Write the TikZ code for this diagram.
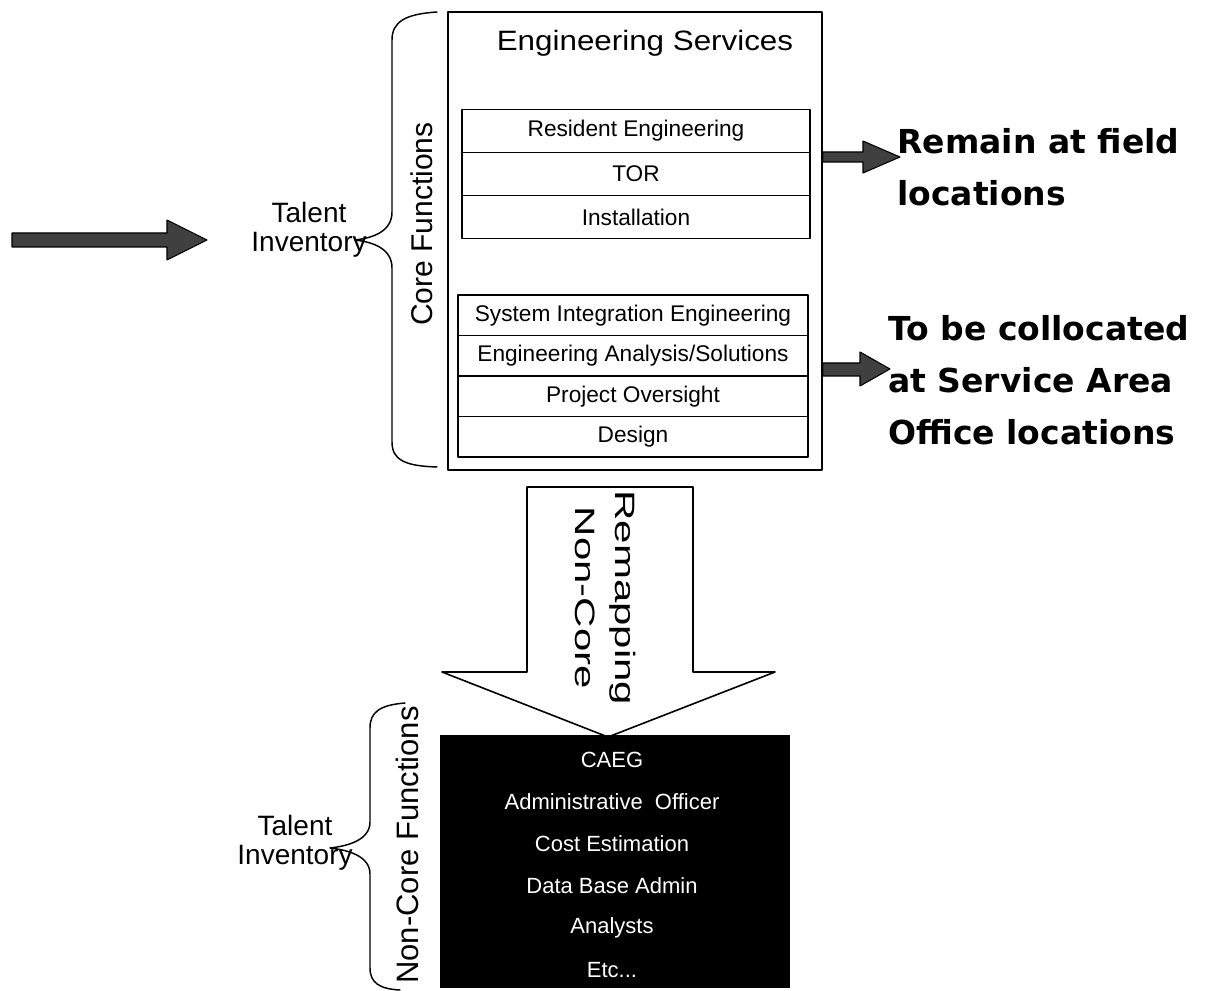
\documentclass[tikz,border=0pt]{standalone}
\usepackage{fontspec}
\setmainfont{Liberation Sans}
\newfontfamily\remfont{DejaVu Sans}
\newfontfamily\titlefont[FakeStretch=1.12]{Liberation Sans}
\newfontfamily\widefont[FakeStretch=1.5]{Liberation Sans}
\begin{document}
\begin{tikzpicture}[x=.75pt, y=-.75pt, line join=round, line cap=round,
	row/.style={draw, line width=1.2pt, inner sep=0, font=\fontsize{17}{17}\selectfont},
	lbl/.style={align=center, inner sep=0, font=\fontsize{21}{22}\selectfont},
	blk/.style={fill=black!75, draw=black, line width=.8pt}]
	\useasboundingbox (0,0) rectangle (1215,991);
	% core functions
	\node[draw, line width=1.2pt, minimum width=280.5pt, minimum height=343.5pt, inner sep=0] (es) at (635,241) {};
	\node[inner sep=0, font=\titlefont\fontsize{21}{21}\selectfont] (title) at (645,43) {Engineering Services};
	\foreach \t [count=\i] in {Resident Engineering, TOR, Installation}
		\node[row, minimum width=261pt, minimum height=32.25pt] (u\i) at (636,{88+43*\i}) {\t};
	\foreach \t [count=\i] in {System Integration Engineering, Engineering Analysis/Solutions, Project Oversight, Design}
		\node[row, minimum width=262.5pt, minimum height=30.375pt] (l\i) at (633,{274.75+40.5*\i}) {\t};
	\draw[line width=1.1pt] (437,12) .. controls (405,14) and (392,22) .. (392,40) -- (392,212)
		.. controls (392,232) and (372,238) .. (355,240) .. controls (372,242) and (392,248) .. (392,268)
		-- (392,442) .. controls (392,460) and (405,466) .. (437,467);
	\node[rotate=90, inner sep=0, font=\fontsize{22.5}{22.5}\selectfont] (cf) at (422,224) {Core Functions};
	\node[lbl] (ti1) at (309,230) {Talent\\Inventory};
	\filldraw[blk] (12,233) -- (167,233) -- (167,220) -- (207,240) -- (167,260) -- (167,247) -- (12,247) -- cycle;
	% to the right
	\node[anchor=north west, inner sep=0, align=left, font=\remfont\bfseries\fontsize{24.75}{39}\selectfont] (remain) at (897,128) {Remain at field\\locations};
	\node[anchor=north west, inner sep=0, align=left, font=\remfont\bfseries\fontsize{24.75}{39}\selectfont] (colloc) at (888,315) {To be collocated\\at Service Area\\Office locations};
	\filldraw[blk] (es.east|-0,152) -- (863,152) -- (863,141) -- (900,157) -- (863,173) -- (863,162) -- (es.east|-0,162) -- cycle;
	\filldraw[blk] (es.east|-0,363) -- (860,363) -- (860,352) -- (890,369) -- (860,386) -- (860,376) -- (es.east|-0,376) -- cycle;
	% remapping
	\draw[line width=1.2pt, fill=white] (527,487) -- (693,487) -- (693,672) -- (775,672) -- (608,737) -- (442,672) -- (527,672) -- cycle;
	\node[rotate=-90, align=center, inner sep=0, font=\widefont\fontsize{21}{30}\selectfont] (remap) at (606,598) {Remapping\\Non-Core};
	% non-core functions
	\node[fill=black, minimum width=262.5pt, minimum height=189.75pt, inner sep=0] (nc) at (615,861.5) {};
	\foreach \t [count=\i] in {CAEG, Administrative\ \ Officer, Cost Estimation, Data Base Admin, Analysts, Etc.{}..}
		\node[white, inner sep=0, font=\fontsize{16.5}{16.5}\selectfont] (n\i) at (612,{718+42*\i}) {\t};
	\draw[line width=1.1pt] (405,703) .. controls (380,705) and (370,712) .. (370,728) -- (370,822)
		.. controls (370,840) and (348,846) .. (330,848) .. controls (348,850) and (370,856) .. (370,874)
		-- (370,968) .. controls (370,983) and (380,989) .. (400,990);
	\node[rotate=90, inner sep=0, font=\fontsize{23.25}{23.25}\selectfont] (ncf) at (407,845) {Non-Core Functions};
	\node[lbl] (ti2) at (295,843) {Talent\\Inventory};
\end{tikzpicture}
\end{document}
